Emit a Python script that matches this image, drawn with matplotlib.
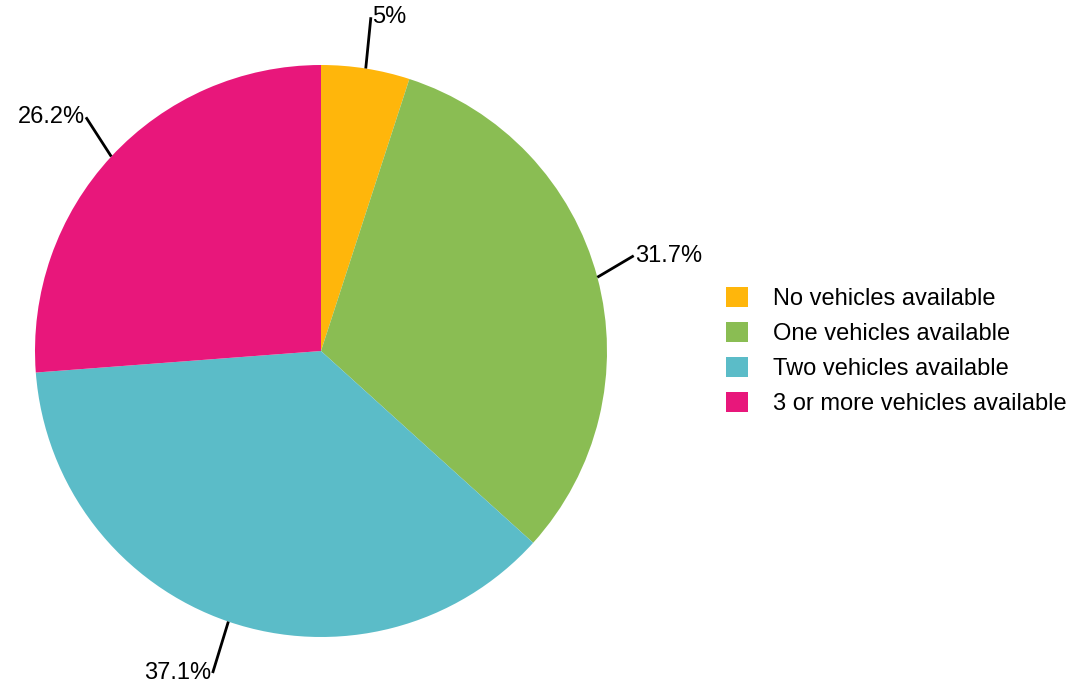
import matplotlib
matplotlib.use("Agg")
import matplotlib.pyplot as plt
import matplotlib.patches as mpatches
import numpy as np

categories = ["No vehicles available", "One vehicles available",
              "Two vehicles available", "3 or more vehicles available"]
values = [5.0, 31.7, 37.1, 26.2]
labels = ["5%", "31.7%", "37.1%", "26.2%"]
colors = ["#FFB60B", "#8ABD53", "#5BBCC8", "#E8177B"]

# label-leader layout tweaks (angle offset in degrees, end radius)
leader_dang = [0.5, 2.0, 0.3, -2.0]
leader_rad = [1.18, 1.143, 1.188, 1.159]

plt.rcParams['font.family'] = ['Liberation Sans', 'DejaVu Sans']

W, H = 1092, 684
fig = plt.figure(figsize=(W / 100, H / 100), dpi=100)
cx, cy, R = 321, 351, 286
ax = fig.add_axes([(cx - R) / W, (H - cy - R) / H, 2 * R / W, 2 * R / H])

wedges, _ = ax.pie(values, colors=colors, startangle=90, counterclock=False,
                   radius=1.0, wedgeprops=dict(linewidth=0))
ax.set_xlim(-1, 1)
ax.set_ylim(-1, 1)
ax.set_aspect('equal')
ax.axis('off')

total = sum(values)
cum = 0
for v, lab, da, r1 in zip(values, labels, leader_dang, leader_rad):
    mid = 90 - (cum + v / 2) / total * 360
    cum += v
    a0 = np.deg2rad(mid)
    a1 = np.deg2rad(mid + da)
    x0, y0 = np.cos(a0), np.sin(a0)
    x1, y1 = r1 * np.cos(a1), r1 * np.sin(a1)
    ax.plot([x0, x1], [y0, y1], color='black', lw=2, clip_on=False,
            solid_capstyle='butt')
    right = np.cos(a0) >= 0
    ha = 'left' if right else 'right'
    off = 0.004 if right else -0.004
    ax.text(x1 + off, y1, lab, ha=ha, va='center', fontsize=17,
            color='black', clip_on=False)

handles = [mpatches.Patch(facecolor=c, edgecolor='none') for c in colors]
fig.legend(handles, categories, loc='upper left',
           bbox_to_anchor=(726 / W, 1 - 287 / H), frameon=False,
           fontsize=17, handlelength=0.93, handleheight=0.93,
           handletextpad=1.05, labelspacing=0.5, borderpad=0,
           borderaxespad=0)

fig.savefig("out.png", dpi=100)
